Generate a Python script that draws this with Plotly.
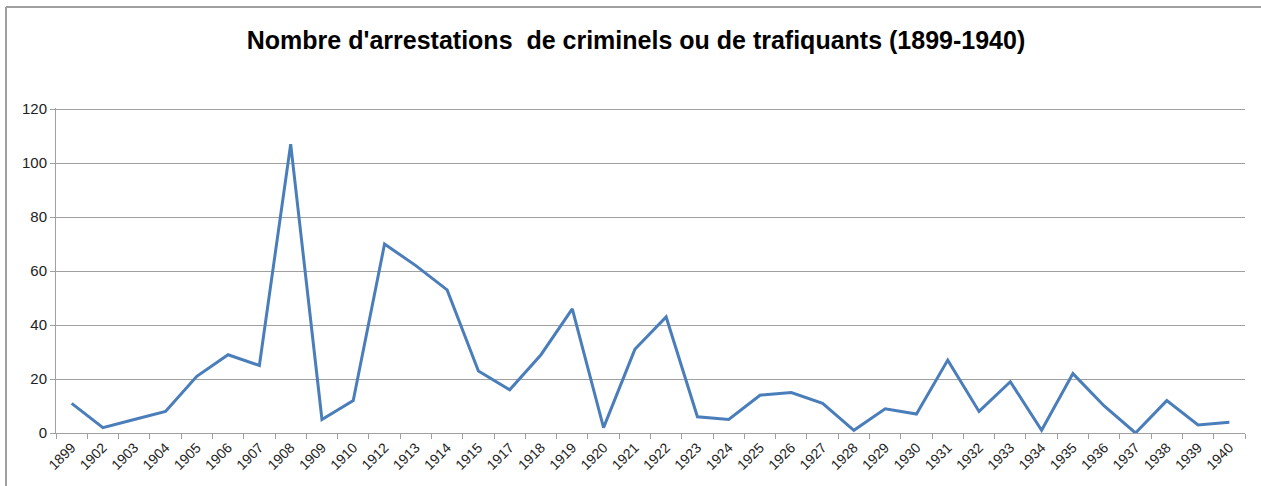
import plotly.graph_objects as go

years = ["1899", "1902", "1903", "1904", "1905", "1906", "1907", "1908", "1909", "1910",
         "1912", "1913", "1914", "1915", "1917", "1918", "1919", "1920", "1921", "1922",
         "1923", "1924", "1925", "1926", "1927", "1928", "1929", "1930", "1931", "1932",
         "1933", "1934", "1935", "1936", "1937", "1938", "1939", "1940"]
arrests = [11, 2, 5, 8, 21, 29, 25, 107, 5, 12,
           70, 62, 53, 23, 16, 29, 46, 2, 31, 43,
           6, 5, 14, 15, 11, 1, 9, 7, 27, 8,
           19, 1, 22, 10, 0, 12, 3, 4]
y_ticks = [0, 20, 40, 60, 80, 100, 120]

W, H = 1261, 486
ml, mr, mt, mb = 56, 16, 108, 53
pw, ph = W - ml - mr, H - mt - mb

fig = go.Figure(go.Scatter(
    x=years, y=arrests, mode="lines",
    line=dict(color="#4a7ebb", width=3),
))

# outer frame (top and left edges)
fx = (6 - ml) / pw
fy = (H - mb - 7) / ph
fig.add_shape(type="line", xref="paper", yref="paper", x0=fx, x1=1.05, y0=fy, y1=fy,
              line=dict(color="#a0a0a0", width=2))
fig.add_shape(type="line", xref="paper", yref="paper", x0=fx, x1=fx, y0=fy, y1=-0.3,
              line=dict(color="#a0a0a0", width=2))

fig.update_layout(
    width=W, height=H,
    margin=dict(l=ml, r=mr, t=mt, b=mb, autoexpand=False),
    paper_bgcolor="white", plot_bgcolor="white",
    showlegend=False,
    title=dict(text="<b>Nombre d'arrestations  de criminels ou de trafiquants (1899-1940)</b>",
               x=(636 - ml) / pw, xref="paper", xanchor="center",
               y=1 - 40 / H, yanchor="middle", yref="container",
               font=dict(family="Liberation Sans Narrow, Arial Narrow, sans-serif", size=25, color="black")),
    xaxis=dict(type="category", range=[-0.5, len(years) - 0.5], automargin=False,
               tickson="boundaries", ticks="outside", ticklen=5,
               tickcolor="#a0a0a0", showline=True, linecolor="#a0a0a0", linewidth=1,
               showgrid=False, tickangle=-45,
               tickfont=dict(family="Liberation Sans, Arial, sans-serif", size=14, color="#222")),
    yaxis=dict(range=[0, 120.4], tickvals=y_ticks, ticks="outside", ticklen=5, automargin=False,
               tickcolor="#a0a0a0", showline=True, linecolor="#a0a0a0", linewidth=1,
               gridcolor="#a0a0a0", gridwidth=1, zeroline=False,
               tickfont=dict(family="Liberation Sans, Arial, sans-serif", size=15, color="#222")),
)

fig.write_html("out.html")
